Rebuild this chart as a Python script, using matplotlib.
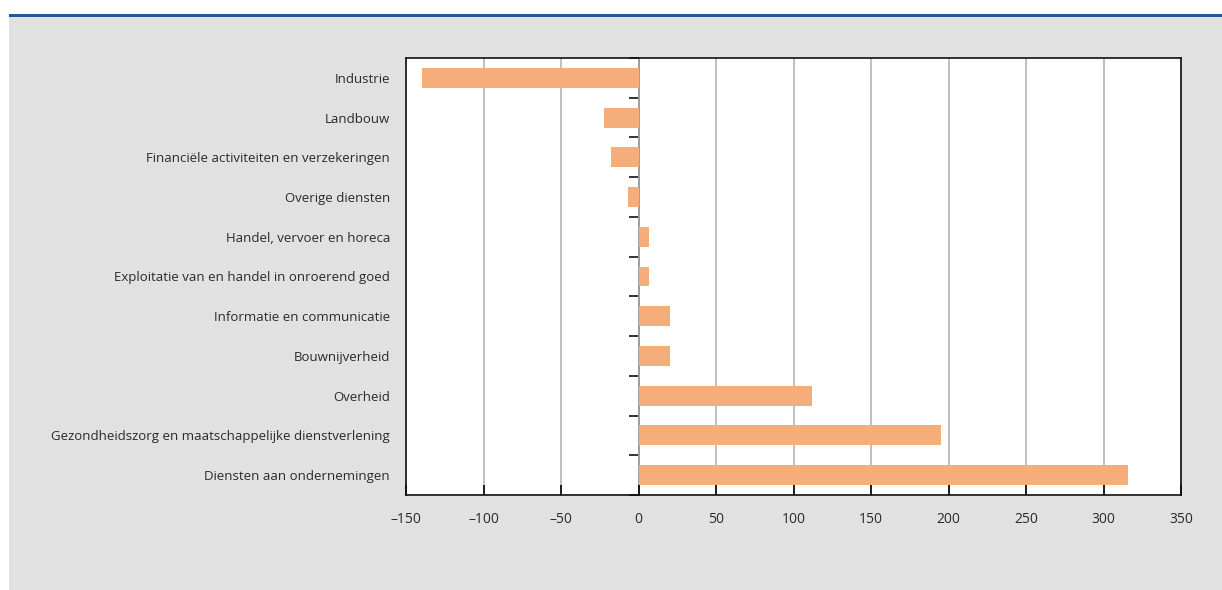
import numpy as np
import matplotlib.pyplot as plt
from matplotlib.patches import Rectangle

plt.rcParams['font.family'] = ['Open Sans', 'DejaVu Sans']

# sectors, top to bottom
sectors = [
    "Industrie",
    "Landbouw",
    "Financiële activiteiten en verzekeringen",
    "Overige diensten",
    "Handel, vervoer en horeca",
    "Exploitatie van en handel in onroerend goed",
    "Informatie en communicatie",
    "Bouwnijverheid",
    "Overheid",
    "Gezondheidszorg en maatschappelijke dienstverlening",
    "Diensten aan ondernemingen",
]
values = [-140, -22, -18, -7, 7, 7, 20, 20, 112, 195, 316]
xticks = [-150, -100, -50, 0, 50, 100, 150, 200, 250, 300, 350]

W, H = 1222, 590
fig = plt.figure(figsize=(W / 100, H / 100), dpi=100)
fig.patch.set_facecolor('white')

# grey panel and blue rule at the top
fig.patches.append(Rectangle((9 / W, 0), 1 - 9 / W, 1 - 16 / H, transform=fig.transFigure,
                             facecolor='#e1e1e1', edgecolor='none', zorder=-10))
fig.patches.append(Rectangle((9 / W, 1 - 16.5 / H), 1 - 9 / W, 2.5 / H, transform=fig.transFigure,
                             facecolor='#245a93', edgecolor='none', zorder=-9))

ax = fig.add_axes([406 / W, 1 - 495 / H, (1181 - 406) / W, (495 - 58) / H])
ax.set_facecolor('white')

n = len(sectors)
y = np.arange(n)
ax.barh(y, values, height=0.5, color='#f5ae7a', zorder=3)

ax.set_ylim(n - 0.5, -0.5)
ax.set_xlim(-150, 350)
ax.set_xticks(xticks)
ax.set_xticklabels([str(v).replace('-', '\u2013') for v in xticks])
ax.set_yticks(y)
ax.set_yticklabels(sectors)

ax.tick_params(axis='y', length=0, pad=11.5, labelsize=9.5, labelcolor='#2a2a2a')
ax.tick_params(axis='x', direction='in', length=7, width=1.2, pad=12,
               labelsize=10, labelcolor='#2a2a2a')
ax.xaxis.grid(True, color='#b4b4b4', linewidth=1.2, zorder=0)
ax.set_axisbelow(True)

for s in ax.spines.values():
    s.set_linewidth(1.2)
    s.set_color('#111111')

# zero line with ticks between categories
sec = ax.secondary_yaxis(0.3)
sec.set_yticks(np.arange(n + 1) - 0.5)
sec.set_yticklabels([])
sec.tick_params(direction='out', length=7, width=1.2, color='#111111')
sec.spines['left'].set_linewidth(1.2)
sec.spines['left'].set_color('#111111')

fig.savefig('out.png', dpi=100)
